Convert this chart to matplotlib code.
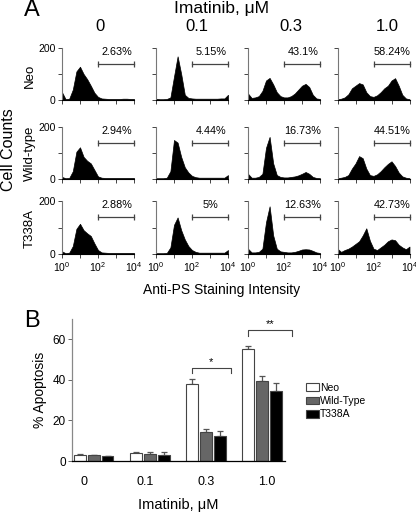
import numpy as np
import matplotlib
matplotlib.use('Agg')
import matplotlib.pyplot as plt
from matplotlib.patches import Patch

plt.rcParams['font.family'] = ['Liberation Sans', 'DejaVu Sans']
plt.rcParams['mathtext.default'] = 'regular'

# ---- Panel A data: histogram heights ----
doses = ['0', '0.1', '0.3', '1.0']
lines = ['Neo', 'Wild-type', 'T338A']
log_intensity = [0.0, 0.2, 0.4, 0.6, 0.8, 1.0, 1.2, 1.4, 1.6, 1.8, 2.0,
                 2.2, 2.4, 2.6, 2.8, 3.0, 3.2, 3.4, 3.6, 3.8, 4.0]

neo_counts = [
    [30, 3, 5, 40, 110, 128, 100, 80, 55, 28, 12, 6, 5, 4, 4, 4, 4, 5, 5, 4, 4],
    [5, 3, 3, 4, 10, 90, 168, 100, 20, 8, 6, 5, 5, 5, 5, 5, 5, 5, 6, 6, 20],
    [25, 8, 10, 15, 35, 75, 85, 60, 30, 15, 10, 10, 15, 25, 40, 55, 62, 50, 20, 6, 4],
    [3, 5, 10, 22, 45, 55, 65, 60, 30, 15, 12, 18, 30, 45, 55, 75, 84, 55, 20, 6, 3],
]
wt_counts = [
    [8, 3, 4, 30, 105, 122, 85, 70, 60, 35, 10, 5, 4, 4, 4, 4, 4, 4, 4, 4, 4],
    [3, 3, 3, 5, 30, 150, 140, 85, 45, 25, 12, 7, 5, 5, 5, 5, 5, 5, 5, 5, 15],
    [20, 5, 5, 8, 20, 120, 162, 60, 15, 8, 6, 6, 8, 10, 14, 20, 27, 20, 8, 4, 3],
    [3, 5, 8, 15, 40, 60, 88, 80, 40, 15, 12, 18, 30, 45, 58, 68, 50, 25, 10, 5, 3],
]
t338a_counts = [
    [10, 3, 5, 30, 95, 114, 90, 78, 68, 40, 15, 6, 5, 4, 4, 4, 4, 4, 4, 4, 4],
    [3, 3, 3, 4, 25, 110, 138, 90, 55, 30, 15, 8, 5, 5, 5, 5, 5, 5, 5, 5, 15],
    [20, 6, 6, 8, 20, 120, 180, 70, 20, 10, 8, 6, 6, 8, 12, 17, 18, 17, 12, 6, 4],
    [20, 8, 15, 20, 28, 38, 48, 70, 97, 50, 20, 15, 25, 35, 48, 55, 52, 35, 25, 18, 28],
]
pct_labels = [
    ['2.63%', '5.15%', '43.1%', '58.24%'],
    ['2.94%', '4.44%', '16.73%', '44.51%'],
    ['2.88%', '5%', '12.63%', '42.73%'],
]

# ---- Panel B data ----
groups = ['0', '0.1', '0.3', '1.0']
neo_pct = [3.0, 4.0, 37.8, 55.0]
neo_err = [0.4, 0.6, 2.5, 1.5]
wt_pct = [2.8, 3.5, 14.3, 39.3]
wt_err = [0.3, 1.0, 1.4, 2.5]
t338a_pct = [2.4, 3.2, 12.3, 34.4]
t338a_err = [0.3, 1.0, 2.3, 3.9]

W, H = 416, 513
fig = plt.figure(figsize=(W / 100, H / 100), dpi=100)


def fx(px):
    return px / W


def fy(py):
    return 1 - py / H


# ---------------- Panel A ----------------
row_bounds = [(48, 100), (127, 179), (201, 254)]
col_left = [62, 156, 248, 337.5]
all_counts = [neo_counts, wt_counts, t338a_counts]
x_int = 10 ** np.array(log_intensity)

for r, (top, bot) in enumerate(row_bounds):
    for c, left in enumerate(col_left):
        ax = fig.add_axes([fx(left), fy(bot), 72 / W, (bot - top) / H])
        ax.fill_between(x_int, all_counts[r][c], 0, color='black', lw=0.5, edgecolor='black')
        ax.set_xscale('log')
        ax.set_xlim(1, 1e4)
        ax.set_ylim(0, 200)
        for s in ['top', 'right']:
            ax.spines[s].set_visible(False)
        ax.spines['left'].set_color('#777777')
        ax.spines['left'].set_linewidth(0.8)
        ax.spines['bottom'].set_linewidth(0.8)
        ax.set_yticks([0, 100, 200])
        ax.set_xticks([1, 10, 100, 1000, 1e4])
        ax.xaxis.set_minor_locator(matplotlib.ticker.NullLocator())
        ax.tick_params(length=3, width=0.7, labelsize=7.5, pad=1.5, color='#444444')
        if c == 0:
            ax.set_yticklabels(['0', '', '200'])
        else:
            ax.set_yticklabels([])
        if r == 2:
            ax.set_xticklabels(['$10^0$', '', '$10^2$', '', '$10^4$'])
        else:
            ax.set_xticklabels([])
        # gate marker
        ax.plot([100, 1e4], [138, 138], color='#444444', lw=0.9, marker='|',
                ms=4, mew=0.9, clip_on=False)
        ax.text(10 ** 3.05, 185, pct_labels[r][c], ha='center', va='center',
                fontsize=7.8)

fig.text(fx(32), fy(10), 'A', fontsize=17, ha='center', va='center')
fig.text(fx(222), fy(8), 'Imatinib, μM', fontsize=12.5, ha='center', va='center')
for d, xpos in zip(doses, [100, 197, 291, 387]):
    fig.text(fx(xpos), fy(27), d, fontsize=12, ha='center', va='center')
for name, ypos in zip(lines, [76, 153, 228]):
    fig.text(fx(30), fy(ypos), name, fontsize=9.5, rotation=90, ha='center', va='center')
fig.text(fx(9), fy(150), 'Cell Counts', fontsize=11.5, rotation=90, ha='center', va='center')
fig.text(fx(222), fy(290), 'Anti-PS Staining Intensity', fontsize=10, ha='center', va='center')

# ---------------- Panel B ----------------
axb = fig.add_axes([fx(72), fy(461), (285 - 72) / W, (461 - 319) / H])
xg = np.arange(len(groups))
bw = 0.21
step = 0.245
series = [(neo_pct, neo_err, 'white', 'Neo'),
          (wt_pct, wt_err, '#666666', 'Wild-Type'),
          (t338a_pct, t338a_err, 'black', 'T338A')]
handles = []
for k, (vals, errs, col, lab) in enumerate(series):
    xs = xg + (k - 1) * step
    axb.errorbar(xs, vals, yerr=[np.zeros(len(errs)), errs], fmt='none',
                 ecolor='#555555', elinewidth=0.9, capsize=2.5, capthick=0.9, zorder=1)
    axb.bar(xs, vals, width=bw, color=col, edgecolor='#444444', linewidth=0.8, zorder=2)
    handles.append(Patch(facecolor=col, edgecolor='#444444', linewidth=0.8, label=lab))

axb.set_xlim(-0.39, 3.41)
axb.set_ylim(0, 70)
for s in ['top', 'right']:
    axb.spines[s].set_visible(False)
axb.spines['left'].set_color('#888888')
axb.spines['left'].set_linewidth(0.9)
axb.spines['bottom'].set_linewidth(0.9)
axb.set_yticks([0, 20, 40, 60])
axb.tick_params(axis='y', length=3, width=0.7, labelsize=8.5, pad=1.5, color='#666666')
axb.set_xticks(xg * 1.087 - 0.18)
axb.set_xticklabels(groups)
axb.tick_params(axis='x', length=0, labelsize=9, pad=11)
axb.set_ylabel('% Apoptosis', fontsize=10, labelpad=4)
axb.set_xlabel('Imatinib, μM', fontsize=10.5, labelpad=7)

# significance brackets
axb.plot([2 - step, 2 - step, 2.44, 2.44], [43.2, 45.7, 45.7, 43.2], color='#444444',
         lw=0.8, clip_on=False)
axb.text((2 - step + 2.44) / 2, 46.2, '*', ha='center', va='bottom', fontsize=8)
axb.plot([3 - step, 3 - step, 3.54, 3.54], [61.5, 64.4, 64.4, 61.5], color='#444444',
         lw=0.8, clip_on=False)
axb.text((3 - step + 3.54) / 2, 64.9, '**', ha='center', va='bottom', fontsize=8)

axb.legend(handles=handles, loc='upper left', bbox_to_anchor=(fx(306), fy(383)),
           bbox_transform=fig.transFigure, frameon=False, fontsize=7.5,
           handlelength=1.25, handleheight=0.8, handletextpad=0.1,
           labelspacing=0.3, borderpad=0, borderaxespad=0)

fig.text(fx(32), fy(321), 'B', fontsize=17, ha='center', va='center')

fig.savefig('out.png', dpi=100)
